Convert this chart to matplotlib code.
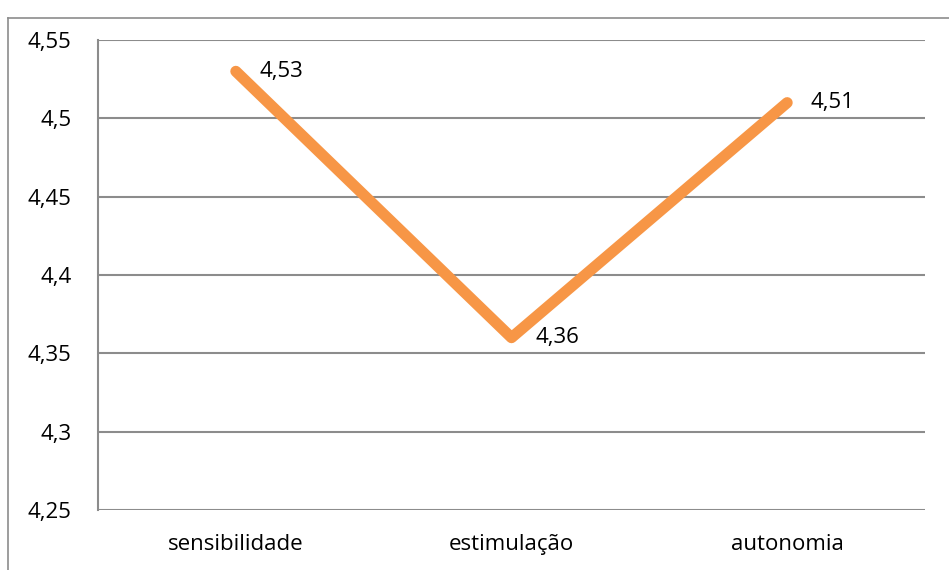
import matplotlib.pyplot as plt
from matplotlib.lines import Line2D
from matplotlib.ticker import FuncFormatter

categorias = ['sensibilidade', 'estimulação', 'autonomia']
valores = [4.53, 4.36, 4.51]
rotulos = ['4,53', '4,36', '4,51']
yticks = [4.25, 4.3, 4.35, 4.4, 4.45, 4.5, 4.55]

plt.rcParams['font.family'] = ['Open Sans', 'DejaVu Sans']

fig = plt.figure(figsize=(9.49, 5.70), dpi=100)
W, H = 949, 570
ax = fig.add_axes([98 / W, 1 - 510 / H, (925 - 98) / W, (510 - 40) / H])

# moldura exterior (só esquerda e topo visíveis)
fig.add_artist(Line2D([8 / W, 8 / W], [0, 1 - 18 / H], transform=fig.transFigure,
                      color='#8c8c8c', lw=1.2))
fig.add_artist(Line2D([8 / W, 1], [1 - 18 / H, 1 - 18 / H], transform=fig.transFigure,
                      color='#8c8c8c', lw=1.2))

x = range(len(categorias))
ax.plot(x, valores, color='#F79646', lw=8, solid_capstyle='round',
        solid_joinstyle='round', zorder=3)
for xi, v, r in zip(x, valores, rotulos):
    ax.annotate(r, (xi, v), xytext=(17, 0), textcoords='offset points',
                ha='left', va='center', fontsize=16)

ax.set_xlim(-0.5, 2.5)
ax.set_ylim(4.25, 4.55)
ax.set_yticks(yticks)
ax.yaxis.set_major_formatter(FuncFormatter(lambda v, p: ('%g' % round(v, 2)).replace('.', ',')))
ax.set_xticks(list(x))
ax.set_xticklabels(categorias)
ax.tick_params(length=0, labelsize=16)
ax.tick_params(axis='y', pad=19)
ax.tick_params(axis='x', pad=17)
ax.grid(axis='y', color='#8c8c8c', lw=1.5)
ax.set_axisbelow(True)
for s in ['top', 'right', 'bottom']:
    ax.spines[s].set_visible(False)
ax.spines['left'].set_color('#8c8c8c')
ax.spines['left'].set_linewidth(1.5)

fig.savefig('out.png', dpi=100)
